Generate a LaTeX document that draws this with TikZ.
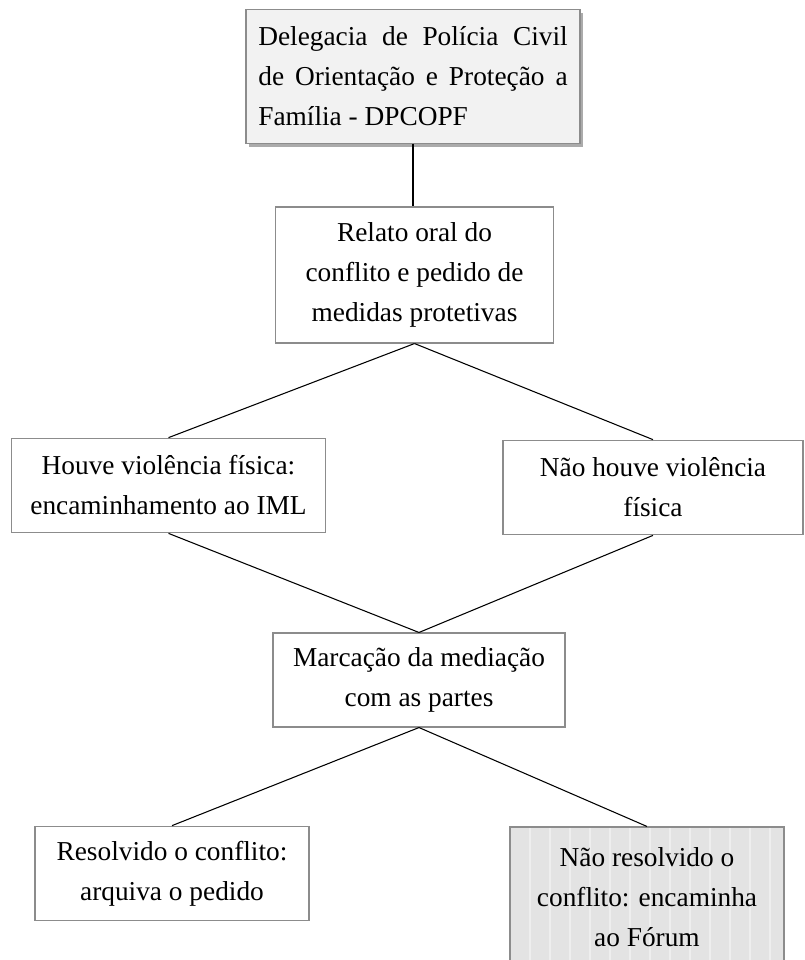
\documentclass[tikz,border=0pt]{standalone}
\usepackage{fontspec}
\setmainfont{Liberation Serif}
\usetikzlibrary{shadows}

\definecolor{boxline}{HTML}{8C8C8C}
\definecolor{topfill}{HTML}{F2F2F2}
\definecolor{endfill}{HTML}{E3E3E3}
\definecolor{endstripe}{HTML}{EEEEEE}

\begin{document}
\begin{tikzpicture}[
        x=0.75pt, y=-0.75pt,
        every node/.style={font=\fontsize{20.5}{30}\selectfont},
        stepbox/.style={draw=boxline, line width=0.8pt, fill=white,
            align=center, inner sep=0pt},
        link/.style={black, line width=0.8pt}
    ]
    \useasboundingbox (0,0) rectangle (804,960);

    \node[stepbox, fill=topfill, align=justify, text width=232pt,
        minimum width=250.5pt, minimum height=100pt,
        drop shadow={shadow xshift=2pt, shadow yshift=-2.5pt,
            fill=black!55, opacity=.6}]
        (dpcopf) at (413,76.5)
        {Delegacia de Polícia Civil\linebreak
         de Orientação e Proteção a\linebreak
         Família - DPCOPF};

    \node[stepbox, minimum width=208pt, minimum height=102pt]
        (relato) at (414.5,275)
        {Relato oral do\\conflito e pedido de\\medidas protetivas};

    \node[stepbox, minimum width=235pt, minimum height=71pt]
        (houve) at (168.5,485.5)
        {Houve violência física:\\encaminhamento ao IML};
    \node[stepbox, minimum width=225pt, minimum height=71pt]
        (naohouve) at (653,487.5)
        {Não houve violência\\física};

    \node[stepbox, minimum width=219pt, minimum height=70.5pt]
        (marcacao) at (419,680)
        {Marcação da mediação\\com as partes};

    \node[stepbox, minimum width=205.5pt, minimum height=71pt]
        (resolvido) at (172,873.5)
        {Resolvido o conflito:\\arquiva o pedido};
    \node[stepbox, fill=endfill, minimum width=205.5pt, minimum height=105pt,
        path picture={
            \foreach \k in {1,...,13}
                \draw[endstripe, line width=1.6pt]
                    ([xshift=\k*15pt]path picture bounding box.south west)
                    -- ([xshift=\k*15pt]path picture bounding box.north west);
            \node[font=\fontsize{20.5}{30}\selectfont, align=center]
                at (path picture bounding box.center)
                {Não resolvido o\\conflito: encaminha\\ao Fórum};
        }]
        (naoresolvido) at (647,897) {\phantom{x}};

    % ligações
    \draw[link] (dpcopf.south) -- (dpcopf.south |- relato.north);
    \draw[link] (relato.south) -- (houve.north);
    \draw[link] (relato.south) -- (naohouve.north);
    \draw[link] (houve.south) -- (marcacao.north);
    \draw[link] (naohouve.south) -- (marcacao.north);
    \draw[link] (marcacao.south) -- (resolvido.north);
    \draw[link] (marcacao.south) -- (naoresolvido.north);
\end{tikzpicture}
\end{document}
